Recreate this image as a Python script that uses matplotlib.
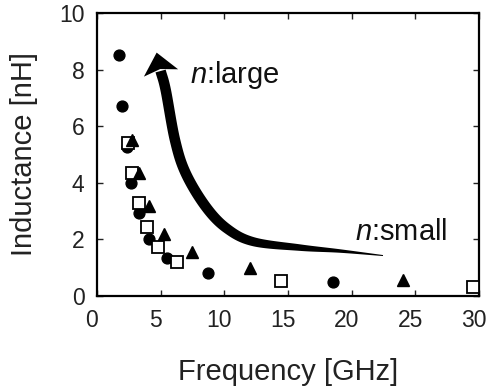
import matplotlib
matplotlib.use("Agg")
import matplotlib.pyplot as plt
import matplotlib.transforms as mtransforms
import numpy as np
from matplotlib.patches import Polygon

plt.rcParams['font.family'] = ['Liberation Sans', 'DejaVu Sans']
plt.rcParams['mathtext.fontset'] = 'custom'
plt.rcParams['mathtext.rm'] = 'Liberation Sans'
plt.rcParams['mathtext.it'] = 'Liberation Sans:italic'

# measured points (GHz, nH)
circle_f = [1.75, 1.94, 2.33, 2.67, 3.3, 4.08, 5.52, 8.75, 18.5]
circle_l = [8.52, 6.71, 5.25, 4.0, 2.92, 2.01, 1.33, 0.82, 0.48]

square_f = [2.46, 2.72, 3.3, 3.9, 4.82, 6.31, 14.43, 29.5]
square_l = [5.39, 4.33, 3.27, 2.43, 1.74, 1.21, 0.53, 0.33]

tri_f = [2.72, 3.3, 4.08, 5.26, 7.44, 12.0, 24.0]
tri_l = [5.5, 4.35, 3.18, 2.19, 1.57, 0.98, 0.57]

# guide arrow centre line, thin end first, ending at the head base
arrow_f = [22.46, 19.08, 15.94, 12.28, 10.19, 8.54, 6.97, 6.13, 5.40, 5.0]
arrow_l = [1.43, 1.59, 1.71, 1.92, 2.39, 3.16, 4.34, 5.51, 7.28, 7.95]
arrow_w = [1.0, 3.5, 6.5, 9.0, 10.0, 10.5, 10.5, 10.5, 10.5, 10.5]  # pixels
arrow_tip = (4.69, 8.60)


def catmull_rom(p, n=30):
    p = np.vstack([2 * p[0] - p[1], p, 2 * p[-1] - p[-2]])
    out = []
    for i in range(1, len(p) - 2):
        p0, p1, p2, p3 = p[i - 1], p[i], p[i + 1], p[i + 2]
        for t in np.linspace(0, 1, n, endpoint=False):
            t2, t3 = t * t, t * t * t
            out.append(0.5 * ((2 * p1) + (-p0 + p2) * t +
                              (2 * p0 - 5 * p1 + 4 * p2 - p3) * t2 +
                              (-p0 + 3 * p1 - 3 * p2 + p3) * t3))
    out.append(p[-2])
    return np.array(out)


fig = plt.figure(figsize=(4.87, 3.90), dpi=100)
ax = fig.add_axes([0.199, 0.241, 0.7846, 0.7257])
ax.set_xlim(0, 30)
ax.set_ylim(0, 10)

ax.plot(circle_f, circle_l, 'o', color='black', markersize=7.8, zorder=3)
ax.plot(square_f, square_l, 's', markerfacecolor='white', markeredgecolor='black',
        markeredgewidth=1.3, markersize=8.2, zorder=3)
ax.plot(tri_f, tri_l, '^', color='black', markersize=8.8, zorder=3)

# arrow built in pixel space, then mapped back to data
fig.canvas.draw()
ctrl = ax.transData.transform(np.column_stack([arrow_f, arrow_l]))
path = catmull_rom(ctrl)
wctrl = catmull_rom(np.column_stack([np.arange(len(arrow_w)), arrow_w]))[:, 1]
tang = np.gradient(path, axis=0)
tang /= np.hypot(tang[:, 0], tang[:, 1])[:, None]
norm = np.column_stack([-tang[:, 1], tang[:, 0]])
left = path + norm * wctrl[:, None] / 2
right = path - norm * wctrl[:, None] / 2
tip = ax.transData.transform(arrow_tip)
base = path[-1]
d = (tip - base) / np.hypot(*(tip - base))
n = np.array([-d[1], d[0]])
head = [base + n * 17.5 - d * 2, tip, base - n * 17.5 - d * 2, base + d * 2]
inv = ax.transData.inverted()
shaft = np.vstack([left, right[::-1]])
ax.add_patch(Polygon(inv.transform(shaft), closed=True, color='black', lw=0, zorder=2))
ax.add_patch(Polygon(inv.transform(np.array(head)), closed=True, color='black', lw=0, zorder=2))

ax.text(7.3, 7.8, r'$n$:large', fontsize=21, va='center', ha='left', color='#111111')
ax.text(20.3, 2.27, r'$n$:small', fontsize=21, va='center', ha='left', color='#111111')

ax.set_xticks([0, 5, 10, 15, 20, 25, 30])
ax.set_yticks([0, 2, 4, 6, 8, 10])
ax.tick_params(direction='in', top=True, right=True, length=4, width=1,
               labelsize=16.5, pad=9, colors='#222222')
# the original's x labels sit a little left of their ticks
shift = mtransforms.ScaledTranslation(-5 / 100, 0, fig.dpi_scale_trans)
for lab in ax.get_xticklabels():
    lab.set_transform(lab.get_transform() + shift)
for s in ax.spines.values():
    s.set_linewidth(1.6)
ax.set_xlabel('Frequency [GHz]', fontsize=21, labelpad=19, color='#222222')
ax.set_ylabel('Inductance [nH]', fontsize=21, labelpad=15, color='#222222')

fig.savefig('out.png', dpi=100)
